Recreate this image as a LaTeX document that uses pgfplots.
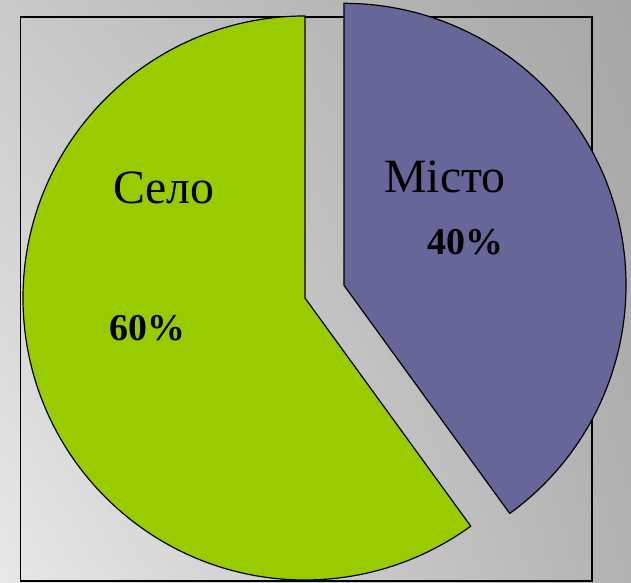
\documentclass[border=0pt]{standalone}
\usepackage{pgfplots}
\usepackage{pgfplotstable}
\pgfplotsset{compat=1.18}
\usetikzlibrary{shadings}
\usepackage{fontspec}
\setmainfont{Liberation Serif}
\definecolor{pgreen}{HTML}{99CC00}
\definecolor{ppurple}{HTML}{666699}
\pgfplotstableread{
idx value
0 60
1 40
}\piedata
\begin{document}%
\begin{tikzpicture}
\pgfplotstablegetelem{0}{value}\of\piedata
\pgfmathsetmacro{\va}{\pgfplotsretval}
\pgfplotstablegetelem{1}{value}\of\piedata
\pgfmathsetmacro{\vb}{\pgfplotsretval}
\pgfmathsetmacro{\fa}{\va/(\va+\vb)}
\pgfmathsetmacro{\aend}{90+360*\fa}
\pgfmathsetmacro{\bstart}{\aend-360}
\pgfmathsetmacro{\bmid}{(\bstart+90)/2}
\begin{axis}[
  width=631bp, height=583bp, scale only axis,
  xmin=0, xmax=631, ymin=0, ymax=583,
  hide axis, clip=false,
]
\shade[upper left=black!21, upper right=black!35, lower left=black!9, lower right=black!30]
  (rel axis cs:0,0) rectangle (rel axis cs:1,1);
\begin{scope}[overlay]
\draw[black, line width=1.6bp] (axis cs:20.5,2) rectangle (axis cs:592,566);
% green slice (value 1)
\filldraw[fill=pgreen, draw=black, line width=1.2bp]
  (axis cs:305,285) -- ++(90:282bp) arc[start angle=90, end angle=\aend, radius=282bp] -- cycle;
% purple slice (value 2), exploded
\filldraw[fill=ppurple, draw=black, line width=1.2bp]
  (axis cs:305,285) ++(\bmid:41bp) -- ++(\bstart:282bp) arc[start angle=\bstart, end angle=90, radius=282bp] -- cycle;
\node[font=\fontsize{48}{52}\selectfont] at (axis cs:164,395) {Село};
\node[font=\fontsize{38}{44}\selectfont\bfseries] at (axis cs:147,255) {\pgfmathprintnumber[assume math mode=true]{\va}\%};
\node[font=\fontsize{48}{52}\selectfont] at (axis cs:445,406) {Місто};
\node[font=\fontsize{38}{44}\selectfont\bfseries] at (axis cs:465,341) {\pgfmathprintnumber[assume math mode=true]{\vb}\%};
\end{scope}
\end{axis}
\pgfresetboundingbox
\useasboundingbox (current axis.south west) rectangle (current axis.north east);
\end{tikzpicture}%
\end{document}
